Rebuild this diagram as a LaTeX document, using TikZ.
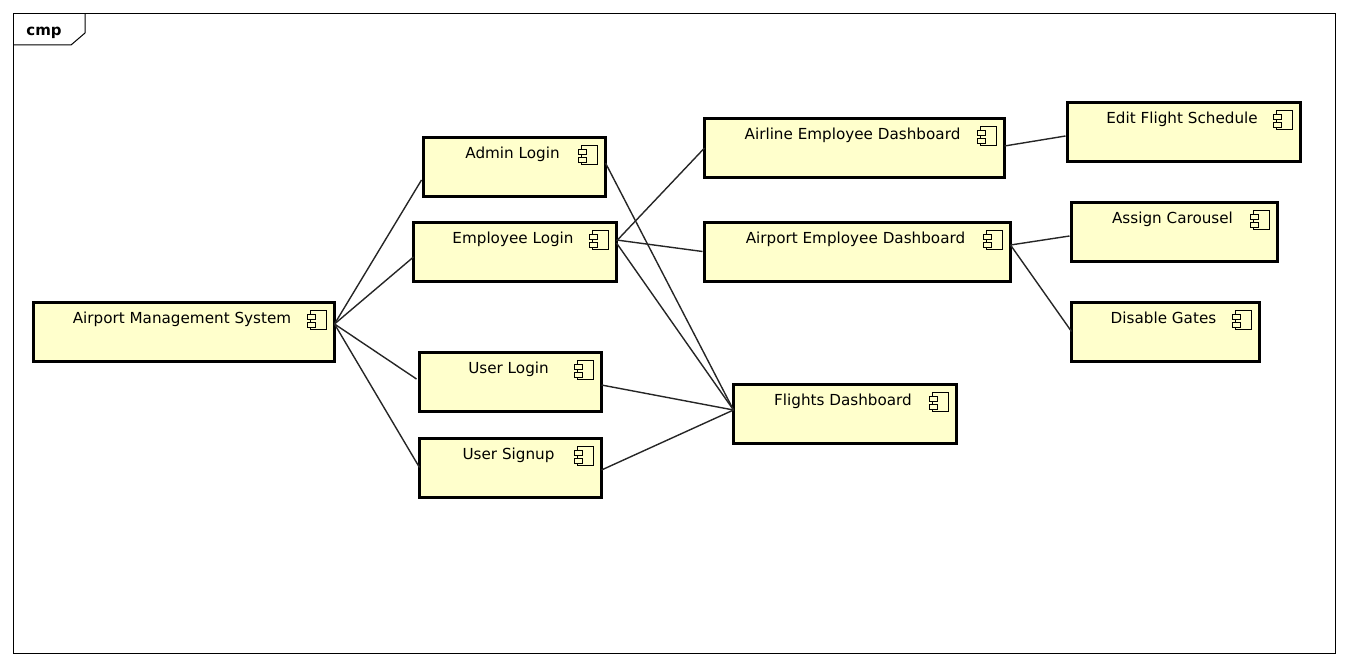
\documentclass[tikz,border=0pt]{standalone}
\usepackage{fontspec}
\setmainfont{DejaVu Sans}
\definecolor{compfill}{RGB}{255,255,204}
\tikzset{
  compbox/.style={draw=black,line width=3pt,fill=compfill,inner sep=0pt,outer sep=0pt,
    font=\fontsize{15.2}{18}\selectfont,text height=21pt,text depth=38pt,
    execute at begin node={\hspace*{-4pt}}},
  compicon/.style={draw=black,line width=1pt,fill=compfill},
  wire/.style={draw=black!85,line width=1.4pt},
  frame/.style={draw=black,line width=1pt}
}
\begin{document}
\begin{tikzpicture}[x=1pt,y=-1pt]
    \useasboundingbox (0,0) rectangle (1348,666);
    \draw[frame] (13.5,13.5) rectangle (1335,653.5);
    \draw[frame] (13.5,45) -- (71,45) -- (85,33) -- (85,13.5);
    \node[font=\fontsize{15}{18}\selectfont\bfseries] (tab) at (44,32.5) {cmp};
    \node[compbox,minimum width=301pt] (sys) at (184,332) {Airport Management System};
    \node[compbox,minimum width=182pt] (admin) at (514.5,167) {Admin Login};
    \node[compbox,minimum width=203pt] (emp) at (515,251.5) {Employee Login};
    \node[compbox,minimum width=182pt] (ulogin) at (510.5,381.5) {User Login};
    \node[compbox,minimum width=182pt] (usignup) at (510.5,467.5) {User Signup};
    \node[compbox,minimum width=300pt] (airline) at (854.5,148) {Airline Employee Dashboard};
    \node[compbox,minimum width=306pt] (airport) at (857.5,251.5) {Airport Employee Dashboard};
    \node[compbox,minimum width=223pt] (flights) at (845,413.5) {Flights Dashboard};
    \node[compbox,minimum width=233pt] (edit) at (1184,132) {Edit Flight Schedule};
    \node[compbox,minimum width=206pt] (assign) at (1174.5,232) {Assign Carousel};
    \node[compbox,minimum width=188pt] (gates) at (1165.5,331.5) {Disable Gates};
    % component icons
    \foreach \n in {sys,admin,emp,ulogin,usignup,airline,airport,flights,edit,assign,gates}
    {
      \draw[compicon] ([shift={(-24,8)}]\n.north east) rectangle ([shift={(-8,27)}]\n.north east);
      \draw[compicon] ([shift={(-27,12)}]\n.north east) rectangle ([shift={(-19,17)}]\n.north east);
      \draw[compicon] ([shift={(-27,20)}]\n.north east) rectangle ([shift={(-19,25)}]\n.north east);
    }
    % connectors
    \draw[wire] ([yshift=8pt]sys.east) -- ([shift={(-2,13)}]admin.west);
    \draw[wire] ([yshift=8pt]sys.east) -- ([shift={(0,5.5)}]emp.west);
    \draw[wire] ([yshift=8pt]sys.east) -- ([shift={(-3,-2.5)}]ulogin.west);
    \draw[wire] ([yshift=8pt]sys.east) -- (usignup.west);
    \draw[wire] ([yshift=4pt]admin.east) -- ([yshift=3.5pt]flights.west);
    \draw[wire] ([yshift=10.5pt]emp.east) -- (airline.west);
    \draw[wire] ([yshift=11.5pt]emp.east) -- ([xshift=-2pt]airport.west);
    \draw[wire] ([yshift=8.5pt]emp.east) -- ([yshift=3.5pt]flights.west);
    \draw[wire] ([yshift=-3.5pt]ulogin.east) -- ([yshift=3.5pt]flights.west);
    \draw[wire] ([yshift=-2.5pt]usignup.east) -- ([yshift=3.5pt]flights.west);
    \draw[wire] ([yshift=2pt]airline.east) -- ([shift={(-2,4)}]edit.west);
    \draw[wire] ([yshift=6.5pt]airport.east) -- ([shift={(-2,4)}]assign.west);
    \draw[wire] ([yshift=6.5pt]airport.east) -- (gates.west);
\end{tikzpicture}
\end{document}
